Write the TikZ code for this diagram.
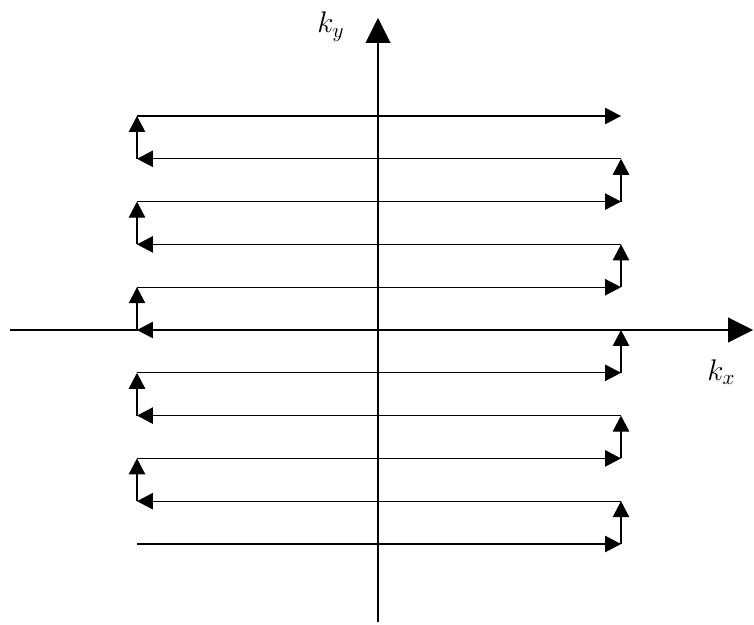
\documentclass[tikz,border=0pt]{standalone}
\usepackage{amsmath}
\usepackage{fix-cm}
\usepackage{tikz}
\usetikzlibrary{arrows.meta}

\begin{document}
\begin{tikzpicture}[x=0.02cm, y=-0.02cm,
    axis/.style={line width=0.6pt, -{Triangle[length=0.5cm, width=0.5cm]}},
    traj/.style={line width=0.6pt, -{Triangle[length=0.32cm, width=0.33cm]}},
    lbl/.style={font=\fontsize{17}{20}\selectfont, inner sep=0pt}]

    \useasboundingbox (0,0) rectangle (754,625);

    % axes
    \coordinate (xl) at (10,330);
    \coordinate (xr) at (753,330);
    \coordinate (yb) at (378,622);
    \coordinate (yt) at (378,18);
    \draw[axis] (xl) -- (xr);
    \draw[axis] (yb) -- (yt);
    \node[lbl, anchor=base west] (kx) at (707,380) {$k_x$};
    \node[lbl, anchor=base west] (ky) at (317,33)  {$k_y$};

    % raster lines, bottom to top
    \foreach \i in {0,...,10} {
        \coordinate (L\i) at (137,544-42.8*\i);
        \coordinate (R\i) at (621,544-42.8*\i);
    }
    \foreach \i in {0,2,...,10} \draw[traj] (L\i) -- (R\i);
    \foreach \i in {1,3,...,9}  \draw[traj] (R\i) -- (L\i);

    % steps in k_y
    \foreach \i [evaluate=\i as \j using int(\i+1)] in {0,2,...,8}
        \draw[traj] (R\i) -- (R\j);
    \foreach \i [evaluate=\i as \j using int(\i+1)] in {1,3,...,9}
        \draw[traj] (L\i) -- (L\j);

\end{tikzpicture}
\end{document}
